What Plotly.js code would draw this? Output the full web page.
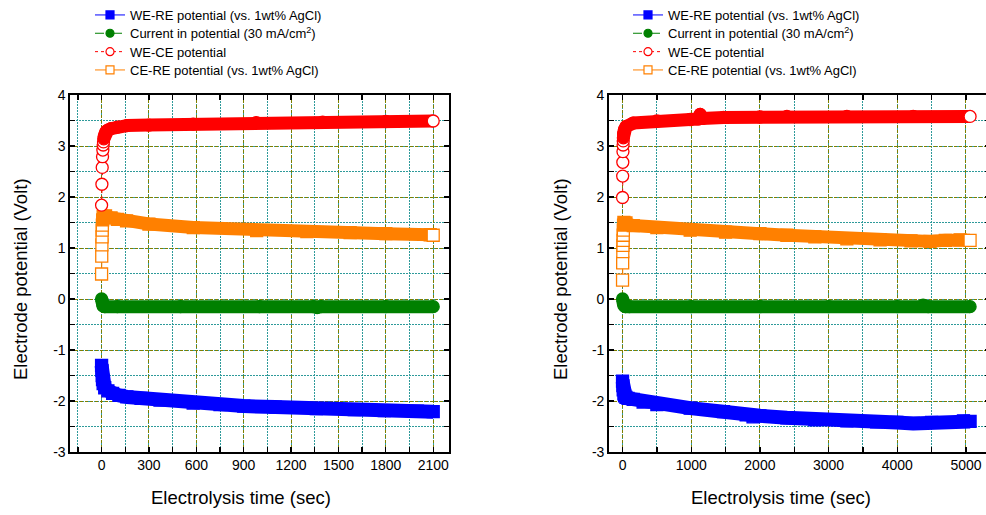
<!DOCTYPE html>
<html>
<head>
<meta charset="utf-8">
<script src="https://cdn.plot.ly/plotly-3.0.1.min.js"></script>
<style>
  html, body { margin: 0; padding: 0; background: #fff; overflow: hidden; }
  #chart { width: 1000px; height: 515px; }
  .scatterlayer .js-line { stroke-linejoin: round; }
</style>
</head>
<body>
<div id="chart"></div>
<script>
// ---------- Data ----------
// Left panel (run up to ~2100 s)
const leftWeReTime = [0, 2, 4, 6, 10, 20, 40, 70, 110, 160, 250, 370, 580, 750, 900, 1100, 1360, 1600, 1790, 2000, 2100];
const leftWeReVolt = [-1.30, -1.40, -1.50, -1.58, -1.66, -1.74, -1.80, -1.85, -1.89, -1.92, -1.95, -1.98, -2.04, -2.07, -2.10, -2.12, -2.15, -2.17, -2.19, -2.20, -2.21];

const leftCurrTime = [0, 3, 6, 10, 20, 100, 500, 1000, 1340, 1365, 1390, 1800, 2100];
const leftCurrVolt = [0.00, -0.05, -0.10, -0.14, -0.15, -0.15, -0.15, -0.15, -0.15, -0.17, -0.15, -0.15, -0.15];

const leftWeCeTime = [0, 2, 4, 6, 8, 10, 12, 14, 16, 20, 25, 30, 40, 60, 100, 160, 300, 580, 980, 1400, 1800, 2100];
const leftWeCeVolt = [1.84, 2.25, 2.58, 2.79, 2.92, 3.02, 3.08, 3.14, 3.18, 3.22, 3.26, 3.29, 3.31, 3.34, 3.37, 3.40, 3.41, 3.43, 3.46, 3.47, 3.48, 3.49];

const leftCeReTime = [0, 1, 2, 3, 4, 5, 7, 10, 25, 60, 100, 158, 300, 581, 982, 1300, 1574, 1800, 2081, 2100];
const leftCeReVolt = [0.49, 0.84, 1.06, 1.22, 1.35, 1.45, 1.55, 1.62, 1.63, 1.59, 1.56, 1.53, 1.47, 1.40, 1.34, 1.32, 1.30, 1.28, 1.26, 1.25];

// Right panel (run up to ~5060 s)
const rightWeReTime = [0, 5, 10, 20, 30, 50, 80, 156, 300, 500, 985, 1470, 1800, 1900, 2000, 2393, 2800, 3266, 3700, 3994, 4233, 4500, 4964, 5060];
const rightWeReVolt = [-1.61, -1.70, -1.78, -1.86, -1.90, -1.93, -1.95, -1.97, -2.02, -2.07, -2.14, -2.21, -2.27, -2.31, -2.29, -2.33, -2.37, -2.39, -2.41, -2.42, -2.44, -2.42, -2.39, -2.40];

const rightCurrTime = [0, 10, 20, 40, 100, 1000, 2000, 3000, 4000, 4376, 4450, 5060];
const rightCurrVolt = [0.00, -0.08, -0.13, -0.15, -0.15, -0.15, -0.15, -0.15, -0.15, -0.12, -0.15, -0.15];

const rightWeCeTime = [0, 2, 4, 6, 8, 10, 12, 15, 20, 30, 50, 156, 500, 985, 1100, 1130, 1160, 1470, 2000, 2393, 3266, 4233, 5060];
const rightWeCeVolt = [1.99, 2.41, 2.68, 2.89, 3.02, 3.10, 3.16, 3.23, 3.28, 3.33, 3.38, 3.45, 3.49, 3.52, 3.53, 3.62, 3.54, 3.56, 3.57, 3.58, 3.58, 3.58, 3.58];

const rightCeReTime = [0, 2, 4, 6, 8, 10, 12, 15, 20, 50, 156, 500, 985, 1500, 2000, 2393, 2800, 3266, 3750, 4200, 4477, 4700, 4915, 5060];
const rightCeReVolt = [0.37, 0.71, 0.93, 1.05, 1.15, 1.25, 1.35, 1.45, 1.50, 1.49, 1.44, 1.40, 1.35, 1.31, 1.28, 1.25, 1.22, 1.18, 1.16, 1.14, 1.13, 1.15, 1.16, 1.15];

// Labels
const seriesNames = [
  'WE-RE potential (vs. 1wt% AgCl)',
  'Current in potential (30 mA/cm<sup>2</sup>)',
  'WE-CE potential',
  'CE-RE potential (vs. 1wt% AgCl)'
];
const leftXTicks = [0, 300, 600, 900, 1200, 1500, 1800, 2100];
const rightXTicks = [0, 1000, 2000, 3000, 4000, 5000];
const yTickVals = [-3, -2, -1, 0, 1, 2, 3, 4];
const yTickText = ['-3', '-2', '-1', '0', '1', '2', '3', '4'];
const xTitle = 'Electrolysis time (sec)';
const yTitle = 'Electrode potential (Volt)';

// ---------- Styling / building ----------
const FONT = 'Liberation Sans, Arial, Helvetica, sans-serif';
const COLORS = ['#0000ff', '#008000', '#ff0000', '#ff8000'];
const SYMBOLS = ['square', 'circle', 'circle', 'square'];
const OPEN = [false, false, true, true];
const DASH = ['solid', 'dashdot', 'dot', 'solid'];
const W = 1000, H = 515;
const ROW_Y = [15, 33.3, 51.7, 70];      // legend row centres (px)
const LEGEND_X = [90, 628];               // legend left edges (px)
const TITLE_SIZE = 18.5;

const traces = [];
function addSeries(t, v, k, panel, bandFrom, bandWidth) {
  const xa = panel === 0 ? 'x' : 'x2';
  const ya = panel === 0 ? 'y' : 'y2';
  const color = COLORS[k];
  // dense band made by heavily overlapping markers in the original
  traces.push({
    type: 'scatter', mode: 'lines', xaxis: xa, yaxis: ya,
    x: t.slice(bandFrom), y: v.slice(bandFrom),
    line: { color: color, width: bandWidth },
    showlegend: false, hoverinfo: 'skip'
  });
  const last = t.length - 1;
  const fills = t.map((_, i) => OPEN[k] ? ((i < bandFrom || i === last) ? '#ffffff' : color) : color);
  traces.push({
    type: 'scatter', mode: 'lines+markers', xaxis: xa, yaxis: ya,
    x: t, y: v, name: seriesNames[k], showlegend: false,
    line: { color: color, width: 1, dash: DASH[k] },
    marker: { symbol: SYMBOLS[k], size: 12, color: fills, line: { color: color, width: 1.3 } }
  });
}
function addLegendEntry(k, panel) {
  const idx = panel * 4 + k + 1;
  traces.push({
    type: 'scatter', mode: 'lines+markers',
    xaxis: panel === 0 ? 'x' : 'x2', yaxis: panel === 0 ? 'y' : 'y2',
    x: [null], y: [null], name: seriesNames[k],
    legend: idx === 1 ? 'legend' : 'legend' + idx,
    line: { color: COLORS[k], width: 1, dash: DASH[k] },
    marker: { symbol: SYMBOLS[k], size: 8, color: OPEN[k] ? '#ffffff' : COLORS[k], line: { color: COLORS[k], width: 1.2 } }
  });
}

// draw order: blue, green, orange, red
addSeries(leftWeReTime, leftWeReVolt, 0, 0, 0, 14);
addSeries(leftCurrTime, leftCurrVolt, 1, 0, 0, 13);
addSeries(leftCeReTime, leftCeReVolt, 3, 0, 6, 13);
addSeries(leftWeCeTime, leftWeCeVolt, 2, 0, 7, 13);
addSeries(rightWeReTime, rightWeReVolt, 0, 1, 0, 14);
addSeries(rightCurrTime, rightCurrVolt, 1, 1, 0, 13);
addSeries(rightCeReTime, rightCeReVolt, 3, 1, 7, 13);
addSeries(rightWeCeTime, rightWeCeVolt, 2, 1, 6, 13);
for (let p = 0; p < 2; p++) for (let k = 0; k < 4; k++) addLegendEntry(k, p);

const common = {
  showline: true, linecolor: '#000', linewidth: 1.6, mirror: 'allticks',
  ticks: 'inside', ticklen: 5, tickwidth: 1.3, tickcolor: '#000',
  showgrid: true, gridcolor: '#7f7f00', griddash: '3px,2px', gridwidth: 1,
  zeroline: false, tickfont: { family: FONT, size: 14, color: '#000' },
  fixedrange: true, layer: 'below traces'
};
function minor(dt) {
  return { tickmode: 'linear', tick0: 0, dtick: dt, ticks: 'inside', ticklen: 5, tickwidth: 1.3, tickcolor: '#000',
           showgrid: true, gridcolor: '#2e9a9a', griddash: '2px,1px', gridwidth: 1 };
}
const yDom = [1 - 452 / H, 1 - 95 / H];

const layout = {
  width: W, height: H,
  margin: { l: 0, r: 0, t: 0, b: 0 },
  paper_bgcolor: '#fff', plot_bgcolor: '#fff',
  font: { family: FONT, size: 13, color: '#000' },
  xaxis: Object.assign({}, common, { domain: [70 / W, 449 / W], anchor: 'y', range: [-200, 2200],
    tickmode: 'array', tickvals: leftXTicks, ticktext: leftXTicks.map(String), minor: minor(150) }),
  yaxis: Object.assign({}, common, { domain: yDom, anchor: 'x', range: [-3, 4],
    tickmode: 'array', tickvals: yTickVals, ticktext: yTickText, minor: minor(0.5) }),
  xaxis2: Object.assign({}, common, { domain: [608.8 / W, 990 / W], anchor: 'y2', range: [-200, 5350],
    tickmode: 'array', tickvals: rightXTicks, ticktext: rightXTicks.map(String), minor: minor(500) }),
  yaxis2: Object.assign({}, common, { domain: yDom, anchor: 'x2', range: [-3, 4],
    tickmode: 'array', tickvals: yTickVals, ticktext: yTickText, minor: minor(0.5) }),
  annotations: [
    { text: xTitle, xref: 'paper', yref: 'paper', x: 241 / W, y: 1 - 497 / H, xanchor: 'center', yanchor: 'middle',
      showarrow: false, font: { family: FONT, size: TITLE_SIZE, color: '#000' } },
    { text: xTitle, xref: 'paper', yref: 'paper', x: 781 / W, y: 1 - 497 / H, xanchor: 'center', yanchor: 'middle',
      showarrow: false, font: { family: FONT, size: TITLE_SIZE, color: '#000' } },
    { text: yTitle, xref: 'paper', yref: 'paper', x: 20 / W, y: 1 - 279 / H, xanchor: 'center', yanchor: 'middle',
      textangle: -90, showarrow: false, font: { family: FONT, size: TITLE_SIZE, color: '#000' } },
    { text: yTitle, xref: 'paper', yref: 'paper', x: 560 / W, y: 1 - 279 / H, xanchor: 'center', yanchor: 'middle',
      textangle: -90, showarrow: false, font: { family: FONT, size: TITLE_SIZE, color: '#000' } }
  ],
  showlegend: true
};
for (let p = 0; p < 2; p++) {
  for (let k = 0; k < 4; k++) {
    const idx = p * 4 + k + 1;
    layout[idx === 1 ? 'legend' : 'legend' + idx] = {
      x: LEGEND_X[p] / W, y: 1 - ROW_Y[k] / H, xanchor: 'left', yanchor: 'middle',
      bgcolor: 'rgba(0,0,0,0)', borderwidth: 0,
      font: { family: FONT, size: 13, color: '#000' }
    };
  }
}

Plotly.newPlot('chart', traces, layout, { staticPlot: true, displayModeBar: false });
</script>
</body>
</html>
